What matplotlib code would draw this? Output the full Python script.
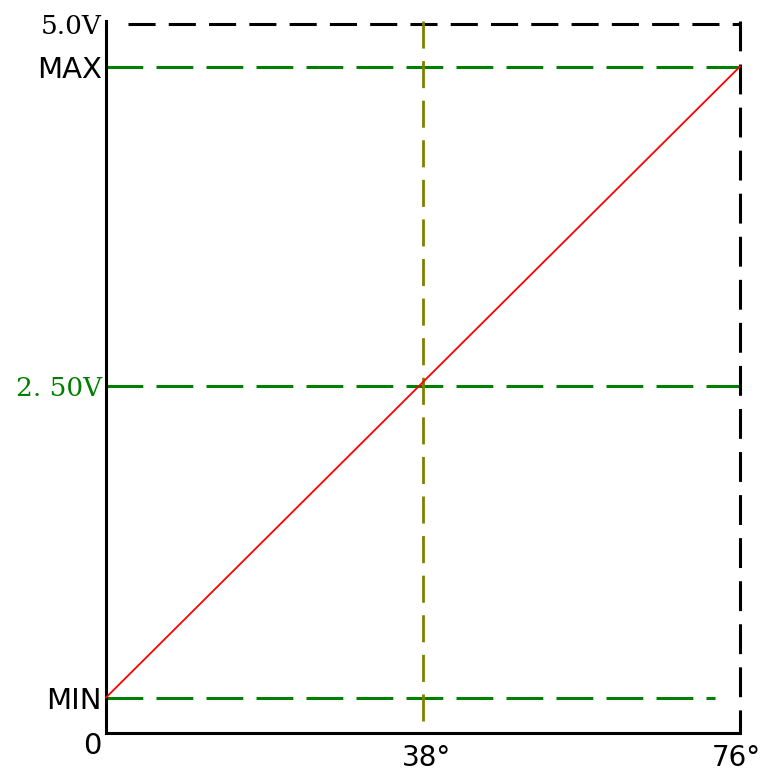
import matplotlib.pyplot as plt
from matplotlib.transforms import ScaledTranslation

plt.rcParams['lines.scale_dashes'] = False

# sensor output: angle (deg) vs voltage (V)
angle = [0, 76]
volts = [0.25, 4.70]

v_min = 0.25
v_mid = 2.45
v_max = 4.70
v_top = 5.0
a_mid = 38
a_max = 76
min_line_end = 73.0

ytick_vals = [v_min, v_mid, v_max, v_top]
ytick_labels = ['MIN', '2. 50V', 'MAX', '5.0V']
xtick_vals = [a_mid, a_max]
xtick_labels = ['38°', '76°']

green = '#008000'
olive = '#808000'

fig = plt.figure(figsize=(7.64, 7.73), dpi=100)
ax = fig.add_axes([106/764, 40/773, 634/764, 709/773])
ax.set_xlim(0, a_max)
ax.set_ylim(0, v_top)

for s in ['top', 'right']:
    ax.spines[s].set_visible(False)
ax.spines['left'].set_linewidth(2.2)
ax.spines['bottom'].set_linewidth(2.2)
ax.spines['left'].set_bounds(0, v_top + 0.02)

# guide lines
ax.plot([0, min_line_end], [v_min, v_min], color=green, lw=2.2, dashes=(26.5, 9.5), clip_on=False)
ax.plot([0, a_max], [v_mid, v_mid], color=green, lw=2.2, dashes=(26.5, 9.5), clip_on=False)
ax.plot([0, a_max], [v_max, v_max], color=green, lw=2.2, dashes=(26.5, 9.5), clip_on=False)
ax.plot([2.6, a_max], [v_top, v_top], color='black', lw=2.2, dashes=(19.5, 9.5), clip_on=False)
ax.plot([a_max, a_max], [v_top + 0.02, 0], color='black', lw=2.2, dashes=(21.5, 9.5), clip_on=False)
ax.plot([a_mid, a_mid], [v_top + 0.02, 0], color=olive, lw=2.0, dashes=(19.5, 9.0), clip_on=False)

ax.plot(angle, volts, color='red', lw=1.3, clip_on=False, zorder=5)

ax.set_yticks(ytick_vals)
ax.set_yticklabels(ytick_labels)
ax.set_xticks(xtick_vals)
ax.set_xticklabels(xtick_labels)
ax.tick_params(axis='both', length=0, labelsize=21)
ax.tick_params(axis='x', labelsize=20, pad=8)
ax.tick_params(axis='y', pad=3)
for lbl in ax.get_yticklabels():
    if lbl.get_text() in ('5.0V', '2. 50V'):
        lbl.set_family('DejaVu Serif')
        lbl.set_fontsize(19)
ax.get_yticklabels()[1].set_color(green)

# shift the 76° label a little left so it stays inside the figure
xl = ax.get_xticklabels()
xl[1].set_transform(xl[1].get_transform() + ScaledTranslation(-4/100, 0, fig.dpi_scale_trans))
xl[0].set_transform(xl[0].get_transform() + ScaledTranslation(4/100, 0, fig.dpi_scale_trans))

ax.text(-1.7, -0.09, '0', fontsize=21, ha='center', va='center')

fig.savefig('out.png', dpi=100)
